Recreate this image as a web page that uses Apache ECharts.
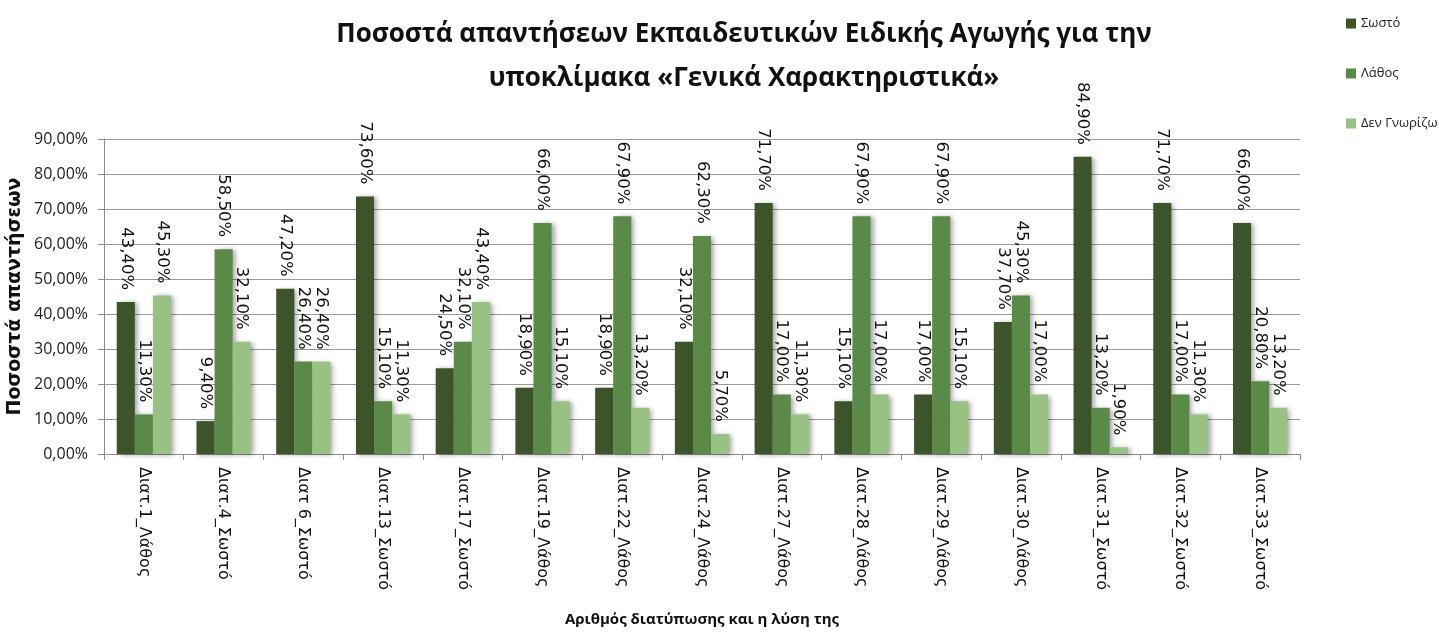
<!DOCTYPE html>
<html>
<head>
<meta charset="utf-8">
<script src="https://cdn.jsdelivr.net/npm/echarts@6/dist/echarts.min.js"></script>
<style>
  html, body { margin: 0; padding: 0; background: #fff; }
  #chart { width: 1439px; height: 633px; }
</style>
</head>
<body>
<div id="chart"></div>
<script>
// Statements (item number and its correct answer)
const categories = [
  'Διατ.1_Λάθος', 'Διατ.4_Σωστό', 'Διατ 6_Σωστό', 'Διατ.13_Σωστό', 'Διατ.17_Σωστό',
  'Διατ.19_Λάθος', 'Διατ.22_Λάθος', 'Διατ.24_Λάθος', 'Διατ.27_Λάθος', 'Διατ.28_Λάθος',
  'Διατ.29_Λάθος', 'Διατ.30_Λάθος', 'Διατ.31_Σωστό', 'Διατ.32_Σωστό', 'Διατ.33_Σωστό'
];
// Percentage of answers per response type
const correct  = [43.4, 9.4, 47.2, 73.6, 24.5, 18.9, 18.9, 32.1, 71.7, 15.1, 17.0, 37.7, 84.9, 71.7, 66.0];
const wrong    = [11.3, 58.5, 26.4, 15.1, 32.1, 66.0, 67.9, 62.3, 17.0, 67.9, 67.9, 45.3, 13.2, 17.0, 20.8];
const unknown  = [45.3, 32.1, 26.4, 11.3, 43.4, 15.1, 13.2, 5.7, 11.3, 17.0, 15.1, 17.0, 1.9, 11.3, 13.2];
const seriesNames = ['Σωστό', 'Λάθος', 'Δεν Γνωρίζω'];
const yTicks = [0, 10, 20, 30, 40, 50, 60, 70, 80, 90];

const colors = ['#3b5429', '#5a8a47', '#97c283'];
const pct = v => v.toFixed(2).replace('.', ',') + '%';

function barSeries(name, data, color) {
  return {
    name: name,
    type: 'bar',
    data: data,
    barGap: '0%',
    barCategoryGap: '32%',
    itemStyle: {
      color: color,
      shadowColor: 'rgba(0,0,0,0.35)',
      shadowBlur: 5,
      shadowOffsetX: 3,
      shadowOffsetY: 1
    },
    label: {
      show: true,
      position: 'top',
      distance: 12,
      rotate: -90,
      align: 'right',
      verticalAlign: 'middle',
      fontFamily: 'DejaVu Sans',
      fontSize: 16.5,
      color: '#111',
      formatter: p => pct(p.value)
    }
  };
}

const chart = echarts.init(document.getElementById('chart'), null, { renderer: 'canvas' });
chart.setOption({
  backgroundColor: '#fff',
  animation: false,
  color: colors,
  title: {
    text: 'Ποσοστά απαντήσεων Εκπαιδευτικών Ειδικής Αγωγής για την\nυποκλίμακα «Γενικά Χαρακτηριστικά»',
    left: 739,
    top: 8,
    textAlign: 'center',
    textStyle: {
      fontFamily: 'Open Sans',
      fontWeight: 'bold',
      fontSize: 26,
      lineHeight: 44,
      color: '#111'
    }
  },
  legend: {
    data: seriesNames,
    orient: 'vertical',
    left: 1341,
    top: 12,
    icon: 'rect',
    itemWidth: 10,
    itemHeight: 10,
    itemGap: 37,
    itemStyle: { borderWidth: 0 },
    textStyle: { fontFamily: 'Open Sans', fontSize: 13, color: '#222' }
  },
  grid: { left: 104, right: 139, top: 139, bottom: 179, outerBoundsMode: 'none', containLabel: false },
  xAxis: {
    type: 'category',
    data: categories,
    name: 'Αριθμός διατύπωσης και η λύση της',
    nameLocation: 'middle',
    nameGap: 158,
    nameTextStyle: { fontFamily: 'Open Sans', fontWeight: 'bold', fontSize: 15, color: '#111' },
    axisLine: { lineStyle: { color: '#8c8c8c', width: 1 } },
    axisTick: { show: true, length: 6, lineStyle: { color: '#8c8c8c' } },
    axisLabel: {
      interval: 0,
      rotate: -90,
      margin: 13,
      fontFamily: 'DejaVu Sans',
      fontSize: 16,
      color: '#111'
    }
  },
  yAxis: {
    type: 'value',
    min: yTicks[0],
    max: yTicks[yTicks.length - 1],
    interval: 10,
    name: 'Ποσοστά απαντήσεων',
    nameLocation: 'middle',
    nameRotate: 90,
    nameGap: 79,
    nameMoveOverlap: false,
    nameTextStyle: { fontFamily: 'DejaVu Sans', fontWeight: 'bold', fontSize: 19, color: '#111' },
    axisLine: { show: true, lineStyle: { color: '#8c8c8c', width: 1 } },
    axisTick: { show: true, length: 6, lineStyle: { color: '#8c8c8c' } },
    axisLabel: {
      margin: 16,
      fontFamily: 'Open Sans',
      fontSize: 16,
      color: '#222',
      formatter: v => pct(v)
    },
    splitLine: { lineStyle: { color: '#9a9a9a', width: 1 } }
  },
  series: [
    barSeries(seriesNames[0], correct, colors[0]),
    barSeries(seriesNames[1], wrong, colors[1]),
    barSeries(seriesNames[2], unknown, colors[2])
  ]
});
</script>
</body>
</html>
